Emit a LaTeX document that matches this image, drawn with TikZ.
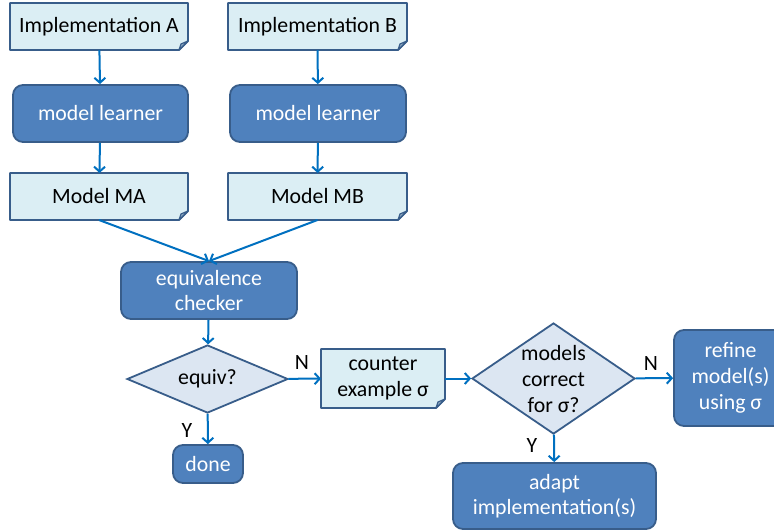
\documentclass[tikz,border=0pt]{standalone}
\usepackage{fontspec}
\setmainfont{Carlito}
\usetikzlibrary{shapes.geometric,arrows.meta,backgrounds}
\definecolor{darkfill}{HTML}{4F81BD}
\definecolor{boxline}{HTML}{385D8A}
\definecolor{notefill}{HTML}{DBEEF4}
\definecolor{diafill}{HTML}{DCE6F2}
\definecolor{arrowc}{HTML}{0070C0}
\newcommand{\dogear}[1]{%
 \begin{scope}[on background layer]
 \filldraw[fill=notefill,draw=boxline,line width=1.8pt,line join=round]
   (#1.north west) -- (#1.north east) -- ([yshift=9pt]#1.south east)
   -- ([xshift=-9pt]#1.south east) -- (#1.south west) -- cycle;
 \filldraw[fill=notefill!55!boxline,draw=boxline,line width=1.2pt,line join=round]
   ([yshift=9pt]#1.south east) -- ([xshift=-7pt,yshift=6pt]#1.south east)
   -- ([xshift=-9pt]#1.south east) -- cycle;
 \end{scope}}
\begin{document}
\begin{tikzpicture}[x=1pt,y=-1pt,
  font=\fontsize{21.8}{25.5}\selectfont,
  note/.style={rectangle,inner sep=0pt,outer sep=0pt,align=center,text=black},
  proc/.style={rectangle,rounded corners=10pt,fill=darkfill,draw=boxline,
    line width=1.8pt,text=white,align=center,inner sep=0pt},
  dec/.style={diamond,fill=diafill,draw=boxline,line width=1.8pt,inner sep=0pt},
  conn/.style={draw=arrowc,line width=2pt,
    -{Straight Barb[length=5pt,width=11pt]}},
  lab/.style={text=black,inner sep=0pt}]
\useasboundingbox (0,0) rectangle (774,531);
\clip (0,0) rectangle (774,531);
\node[note,minimum width=178pt,minimum height=47pt] (ia) at (99,26.5) {Implementation A};
\node[note,minimum width=179pt,minimum height=47pt] (ib) at (317.5,26.5) {Implementation B};
\dogear{ia}\dogear{ib}
\node[proc,minimum width=175pt,minimum height=57pt] (la) at (100.5,113.5) {model learner};
\node[proc,minimum width=176pt,minimum height=57pt] (lb) at (318,113.5) {model learner};
\node[note,minimum width=178pt,minimum height=47pt] (ma) at (99,196.5) {Model MA};
\node[note,minimum width=179pt,minimum height=47pt] (mb) at (317.5,196.5) {Model MB};
\dogear{ma}\dogear{mb}
\node[proc,minimum width=176pt,minimum height=57pt] (ec) at (209,290.5) {equivalence\\checker};
\node[dec,minimum width=161pt,minimum height=68pt,
  label={[lab]center:equiv?}] (eq) at (207.5,379) {};
\node[note,minimum width=124pt,minimum height=59pt] (ce) at (383,378.5) {counter\\example σ};
\dogear{ce}
\node[proc,minimum width=70pt,minimum height=38pt] (dn) at (208,464) {done};
\node[dec,minimum width=163pt,minimum height=111pt,
  label={[lab,align=center,font=\fontsize{21.8}{26}\selectfont]center:models\\correct\\for σ?}] (mc) at (553.5,378.5) {};
\node[proc,minimum width=113pt,minimum height=96pt,
  font=\fontsize{21.8}{26}\selectfont] (rf) at (730.5,378) {refine\\model(s)\\using σ};
\node[proc,minimum width=203pt,minimum height=66pt] (ad) at (554.5,496) {adapt\\implementation(s)};
\node[lab] (n1) at (302,362) {N};
\node[lab] (y1) at (187,430) {Y};
\node[lab] (n2) at (651,363) {N};
\node[lab] (y2) at (532,445) {Y};
\draw[conn] (ia) -- (la);
\draw[conn] (ib) -- (lb);
\draw[conn] (la) -- (ma);
\draw[conn] (lb) -- (mb);
\draw[conn] (ma.south) -- (ec.north);
\draw[conn] (mb.south) -- (ec.north);
\draw[conn] (ec) -- (eq);
\draw[conn] (eq) -- (dn);
\draw[conn] (eq) -- (ce);
\draw[conn] (ce) -- (mc);
\draw[conn] (mc) -- (rf);
\draw[conn] (mc) -- (ad);
\end{tikzpicture}
\end{document}
